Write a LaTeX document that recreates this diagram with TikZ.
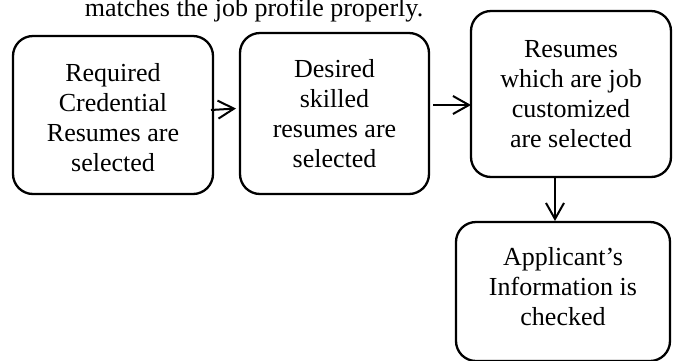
\documentclass[tikz,border=0pt]{standalone}
\usepackage{fontspec}
\setmainfont{Liberation Serif}
\usetikzlibrary{arrows.meta}
\begin{document}
\begin{tikzpicture}[x=1pt,y=-1pt,
  stage/.style={draw=black, line width=2.3pt, rounded corners=20pt,
    outer sep=0pt, inner sep=0pt, align=center,
    font=\fontsize{26}{30}\selectfont},
  words/.style={inner sep=0pt, align=center, font=\fontsize{26}{30}\selectfont},
  flow/.style={line width=2pt, -{Straight Barb[length=16pt,width=18pt,line width=2pt]}}]
\useasboundingbox (0,0) rectangle (673,360);

% caption line above the flow
\node (cap) [anchor=base, font=\fontsize{26}{30}\selectfont, inner sep=0pt]
  at (254,16) {matches the job profile properly.};

% process stages
\node (A) [stage, minimum width=200pt, minimum height=158pt] at (113,115) {};
\node (Atext) [words] at (113,117.5)
  {Required\\Credential\\Resumes are\\selected};
\node (B) [stage, minimum width=189pt, minimum height=161pt] at (334.5,113.5)
  {Desired\\skilled\\resumes are\\selected};
\node (C) [stage, minimum width=200pt, minimum height=166pt] at (571,94)
  {Resumes\\which are job\\customized\\are selected};
\node (D) [stage, minimum width=214pt, minimum height=139pt] at (563,291.5) {};
\node (Dtext) [words] at (563,287)
  {Applicant’s\\Information is\\checked};

% connectors
\draw[flow] ([shift={(-2pt,5pt)}]A.east) -- ([shift={(-4pt,5pt)}]B.west);
\draw[flow] ([shift={(4pt,8.5pt)}]B.east) -- ([shift={(0pt,-11pt)}]C.west);
\draw[flow] ([xshift=-16pt]C.south) -- ([shift={(-8pt,1pt)}]D.north);
\end{tikzpicture}
\end{document}
